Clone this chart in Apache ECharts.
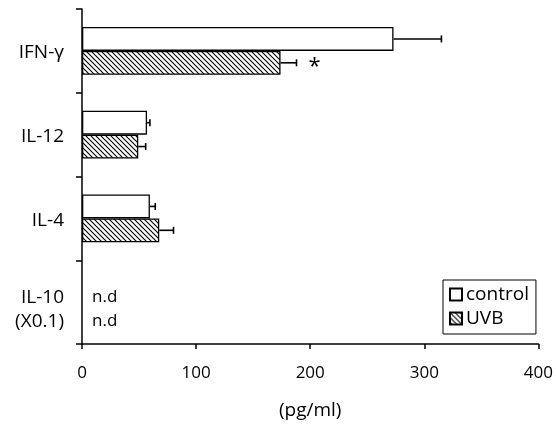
<!DOCTYPE html>
<html><head><meta charset="utf-8">
<script src="https://cdn.jsdelivr.net/npm/echarts@6/dist/echarts.min.js"></script>
<style>html,body{margin:0;padding:0;background:#fff}#c{width:556px;height:425px}</style>
</head><body><div id="c"></div>
<script>
const categories = ['IFN-γ', 'IL-12', 'IL-4', 'IL-10\n(X0.1)'];
const controlValues = [273, 57, 59.5, null];
const controlErrors = [42, 2.5, 4.7, null];
const uvbValues = [174, 49.3, 67.7, null];
const uvbErrors = [14, 6.5, 12.5, null];
const uvbMarks = ['*', '', '', ''];
const controlMarks = ['', '', '', ''];
const xTicks = [0, 100, 200, 300, 400];
const FONT = 'Open Sans';

const tile = document.createElement('canvas');
tile.width = 5; tile.height = 5;
const tc = tile.getContext('2d');
tc.fillStyle = '#fff'; tc.fillRect(0, 0, 5, 5);
tc.strokeStyle = '#000'; tc.lineWidth = 1.1;
tc.beginPath();
tc.moveTo(-1, -1); tc.lineTo(6, 6);
tc.moveTo(-1, 4); tc.lineTo(2, 7);
tc.moveTo(4, -1); tc.lineTo(7, 2);
tc.stroke();

function errData(values, errors) {
  return values.map((v, i) => [v == null ? 0 : v, errors[i] == null ? 0 : errors[i], i, v == null ? 1 : 0]);
}
function makeRender(sign, marks) {
  return function (params, api) {
    const v = api.value(0), e = api.value(1), cat = api.value(2), nd = api.value(3);
    const mark = marks[params.dataIndex] || '';
    const band = api.size([0, 1])[1];
    const off = sign * band * 0.57 / 4;
    const base = api.coord([0, cat]);
    const y = base[1] + off;
    if (nd) {
      return { type: 'text', style: { text: 'n.d', x: base[0] + 10, y: y + 7, textVerticalAlign: 'middle', fill: '#000', font: '17px "' + FONT + '"' } };
    }
    const p1 = api.coord([v, cat]);
    const p2 = api.coord([v + e, cat]);
    const children = [
      { type: 'line', shape: { x1: p1[0], y1: y, x2: p2[0], y2: y }, style: { stroke: '#000', lineWidth: 1.6 } },
      { type: 'line', shape: { x1: p2[0], y1: y - 3.5, x2: p2[0], y2: y + 3.5 }, style: { stroke: '#000', lineWidth: 1.6 } }
    ];
    if (mark) {
      children.push({ type: 'text', style: { text: mark, x: p2[0] + 18, y: y + 4, textAlign: 'center', textVerticalAlign: 'middle', fill: '#000', font: '22px "' + FONT + '"' } });
    }
    return { type: 'group', children };
  };
}

const chart = echarts.init(document.getElementById('c'), null, { renderer: 'canvas' });
chart.setOption({
  animation: false,
  backgroundColor: '#fff',
  textStyle: { fontFamily: FONT, color: '#000' },
  grid: { left: 82, right: 17, top: 9, bottom: 80 },
  legend: {
    orient: 'vertical', left: 443, top: 280,
    data: ['control', 'UVB'],
    itemWidth: 12, itemHeight: 12, itemGap: 5,
    borderColor: '#000', borderWidth: 1, padding: [5, 7, 6, 6],
    textStyle: { fontFamily: FONT, fontSize: 19, color: '#000', padding: [0, 0, 0, -1] },
    icon: 'rect'
  },
  xAxis: {
    type: 'value', min: xTicks[0], max: xTicks[xTicks.length - 1], interval: 100,
    name: '(pg/ml)', nameLocation: 'middle', nameGap: 57,
    nameTextStyle: { fontFamily: FONT, fontSize: 19, color: '#000' },
    axisLine: { show: true, lineStyle: { color: '#000', width: 1.5 } },
    axisTick: { show: true, length: 5, lineStyle: { color: '#000', width: 1.5 } },
    axisLabel: { fontFamily: FONT, fontSize: 17, color: '#000', margin: 21 },
    splitLine: { show: false }
  },
  yAxis: {
    type: 'category', data: categories, inverse: true,
    axisLine: { show: true, lineStyle: { color: '#000', width: 1.5 } },
    axisTick: { show: true, length: 6, lineStyle: { color: '#000', width: 1.5 } },
    axisLabel: {
      fontFamily: FONT, fontSize: 19, color: '#000', margin: 18, align: 'right',
      formatter: function (v) {
        const lines = v.split('\n');
        const sp = lines.length > 1 ? '{big| }' : '{small| }';
        return sp + '\n' + lines.map(l => '{a|' + l + '}').join('\n');
      },
      rich: {
        a: { fontFamily: FONT, fontSize: 19, color: '#000', lineHeight: 24, align: 'right' },
        small: { fontSize: 4, lineHeight: 4 },
        big: { fontSize: 14, lineHeight: 14 }
      }
    }
  },
  series: [
    { name: 'control', type: 'bar', data: controlValues, barCategoryGap: '43%', barGap: '0%',
      itemStyle: { color: '#fff', borderColor: '#000', borderWidth: 1.3 } },
    { name: 'UVB', type: 'bar', data: uvbValues, barCategoryGap: '43%', barGap: '0%',
      itemStyle: { color: { image: tile, repeat: 'repeat' }, borderColor: '#000', borderWidth: 1.3 } },
    { name: 'controlErr', type: 'custom', renderItem: makeRender(-1, controlMarks), data: errData(controlValues, controlErrors),
      encode: { x: 0, y: 2 }, clip: false, z: 5 },
    { name: 'uvbErr', type: 'custom', renderItem: makeRender(1, uvbMarks), data: errData(uvbValues, uvbErrors),
      encode: { x: 0, y: 2 }, clip: false, z: 5 }
  ]
});
</script></body></html>
